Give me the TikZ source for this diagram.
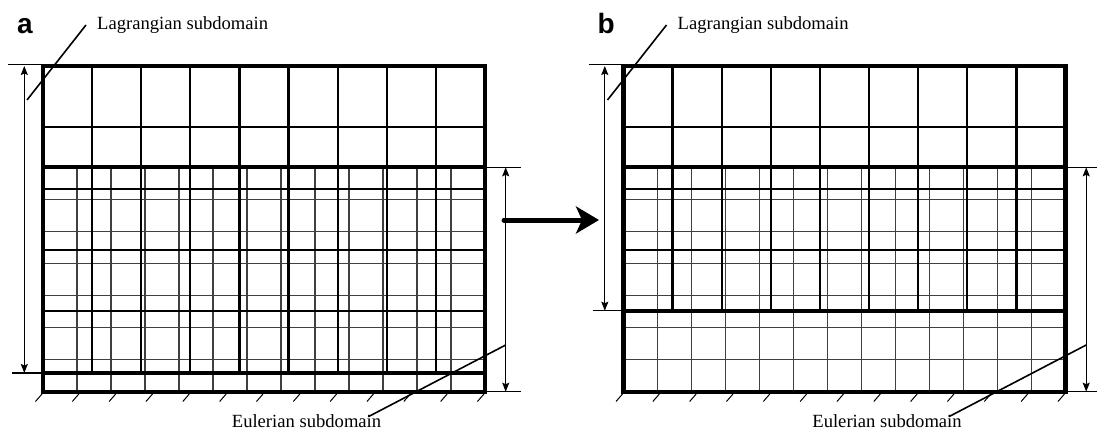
\documentclass[tikz,border=0pt]{standalone}
\usepackage{fontspec}
\setmainfont{Liberation Serif}
\newfontfamily\labfont{Liberation Sans}
\usetikzlibrary{arrows.meta}
\tikzset{
  eul/.style={draw=black!75, line width=1.6pt},
  lagv/.style={draw=black, line width=2.3pt},
  lagh/.style={draw=black, line width=1.9pt},
  heavy/.style={draw=black, line width=4.2pt},
  outline/.style={draw=black, line width=4.4pt},
  hatch/.style={draw=black, line width=1pt},
  dimline/.style={draw=black, line width=1.3pt, {Stealth[length=9pt,width=7pt,inset=1.5pt]}-{Stealth[length=9pt,width=7pt,inset=1.5pt]}},
  extline/.style={draw=black, line width=1.2pt},
  leader/.style={draw=black, line width=1.6pt},
  txt/.style={font=\fontsize{18.6}{20}\selectfont, inner sep=0pt, anchor=base west},
  panellab/.style={font=\fontsize{28}{30}\selectfont\labfont\bfseries, inner sep=0pt, anchor=base west}
}
\begin{document}
\begin{tikzpicture}[x=1pt,y=-1pt]
\useasboundingbox (0,0) rectangle (1097,433);
\foreach \dx/\lb/\nr/\lab in {0/373/5/a, 580.5/310.7/4/b}{
\begin{scope}[xshift=\dx pt]
  % Eulerian mesh
  \foreach \k in {1,...,12}
    \draw[eul] ({43+34*\k},167.3) -- ({43+34*\k},391.7);
  \foreach \k in {1,...,6}
    \draw[eul] (43,{167.3+32.06*\k}) -- (485,{167.3+32.06*\k});
  % Lagrangian mesh
  \foreach \k in {1,...,8}
    \draw[lagv] ({43+49.11*\k},66) -- ({43+49.11*\k},\lb);
  \pgfmathtruncatemacro{\nh}{\nr-1}
  \foreach \k in {1,...,\nh}
    \draw[lagh] (43,{66+61.35*\k}) -- (485,{66+61.35*\k});
  % subdomain borders
  \draw[heavy] (43,167.3) -- (485,167.3);
  \draw[heavy] (43,\lb) -- (485,\lb);
  \draw[outline] (43,66) rectangle (485,391.7);
  % ground hatching
  \foreach \k in {0,...,12}
    \draw[hatch] ({42+36.83*\k},394) -- ({35.5+36.83*\k},401.5);
  % Lagrangian dimension
  \coordinate (lt\lab) at (24.3,66);
  \coordinate (lb\lab) at (24.3,\lb);
  \draw[extline] (8,64.5) -- (43,64.5);
  \draw[extline] (12,\lb) -- (43,\lb);
  \draw[dimline] (lt\lab) -- (lb\lab);
  % Eulerian dimension
  \coordinate (et\lab) at (505.7,167.3);
  \coordinate (eb\lab) at (505.7,391.7);
  \draw[extline] (485,167.3) -- (521,167.3);
  \draw[extline] (485,391.7) -- (521,391.7);
  \draw[dimline] (et\lab) -- (eb\lab);
  % labels
  \node[panellab] (pl\lab) at (17,33.3) {\lab};
  \node[txt] (lagtxt\lab) at (97,30) {Lagrangian subdomain};
  \node[txt] (eultxt\lab) at (231.7,427.5) {Eulerian subdomain};
  \coordinate (la\lab) at (27,100);
  \coordinate (lz\lab) at (86,25);
  \draw[leader] (la\lab) -- (lz\lab);
  \coordinate (ea\lab) at (505.7,345);
  \coordinate (ez\lab) at (368.3,416.7);
  \draw[leader] (ea\lab) -- (ez\lab);
\end{scope}
}
% transition arrow
\coordinate (arrs) at (504,220);
\coordinate (arre) at (599,220);
\draw[line width=5pt, line cap=round, -{Stealth[length=23pt,width=27pt,inset=6pt]}] (arrs) -- (arre);
\end{tikzpicture}
\end{document}
